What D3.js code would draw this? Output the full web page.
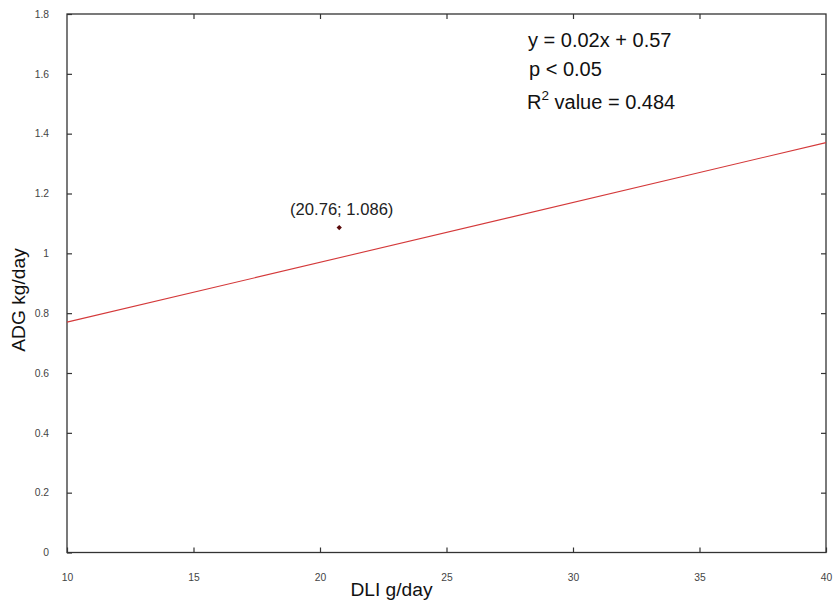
<!DOCTYPE html>
<html>
<head>
<meta charset="utf-8">
<script src="https://cdn.jsdelivr.net/npm/d3@7"></script>
<style>
  html, body { margin: 0; padding: 0; background: #fff; }
  svg { display: block; font-family: "Liberation Sans", Arial, sans-serif; }
</style>
</head>
<body>
<svg id="chart" width="834" height="601"></svg>
<script>
// Regression of average daily gain on daily lignin intake
const xDomain = [10, 40];
const yDomain = [0, 1.8];
const xTicks = [10, 15, 20, 25, 30, 35, 40];
const yTicks = [0, 0.2, 0.4, 0.6, 0.8, 1, 1.2, 1.4, 1.6, 1.8];
const slope = 0.02;
const intercept = 0.57;
const fitX = [10, 40];
const pointX = [20.76];
const pointY = [1.086];
const pointLabels = ["(20.76; 1.086)"];
const statLines = ["y = 0.02x + 0.57", "p < 0.05"];
const r2Value = "0.484";
const xTitle = "DLI g/day";
const yTitle = "ADG kg/day";

const svg = d3.select("#chart");
const plotLeft = 67, plotRight = 826, plotTop = 14, plotBottom = 552.5;

const x = d3.scaleLinear().domain(xDomain).range([plotLeft, plotRight]);
const y = d3.scaleLinear().domain(yDomain).range([plotBottom, plotTop]);

const axisColor = "#333";
const labelColor = "#444";
const tickLen = 5;

// Frame
svg.append("rect")
  .attr("x", plotLeft).attr("y", plotTop)
  .attr("width", plotRight - plotLeft).attr("height", plotBottom - plotTop)
  .attr("fill", "none").attr("stroke", axisColor).attr("stroke-width", 1.3);

// Inward ticks on all four sides
function styleAxis(g) {
  g.select(".domain").remove();
  g.selectAll(".tick line").attr("stroke", axisColor).attr("stroke-width", 1.2);
  g.selectAll(".tick text").attr("fill", labelColor)
    .attr("font-size", 10.3).attr("font-family", "Liberation Sans, Arial, sans-serif");
}

svg.append("g").attr("transform", `translate(0,${plotBottom})`)
  .call(d3.axisBottom(x).tickValues(xTicks).tickFormat(d3.format("d"))
    .tickSizeInner(-tickLen).tickSizeOuter(0).tickPadding(21))
  .call(styleAxis);

svg.append("g").attr("transform", `translate(0,${plotTop})`)
  .call(d3.axisTop(x).tickValues(xTicks.slice(1, -1)).tickFormat("")
    .tickSizeInner(-tickLen).tickSizeOuter(0))
  .call(styleAxis);

svg.append("g").attr("transform", `translate(${plotLeft},0)`)
  .call(d3.axisLeft(y).tickValues(yTicks).tickFormat(d3.format("~g"))
    .tickSizeInner(-tickLen).tickSizeOuter(0).tickPadding(18))
  .call(styleAxis);

svg.append("g").attr("transform", `translate(${plotRight},0)`)
  .call(d3.axisRight(y).tickValues(yTicks.slice(1, -1)).tickFormat("")
    .tickSizeInner(-tickLen).tickSizeOuter(0))
  .call(styleAxis);

// Fitted line
const line = d3.line().x(d => x(d)).y(d => y(slope * d + intercept));
svg.append("path")
  .datum(fitX)
  .attr("d", line)
  .attr("fill", "none")
  .attr("stroke", "#d4393a")
  .attr("stroke-width", 1.1);

// Observed point
const pts = pointX.map((v, i) => ({ x: v, y: pointY[i], label: pointLabels[i] }));
svg.selectAll("path.pt").data(pts).enter().append("path")
  .attr("class", "pt")
  .attr("transform", d => `translate(${x(d.x)},${y(d.y)})`)
  .attr("d", d3.symbol().type(d3.symbolSquare).size(14))
  .attr("transform", d => `translate(${x(d.x)},${y(d.y)}) rotate(45)`)
  .attr("fill", "#5a0a0a");

svg.selectAll("text.ptlabel").data(pts).enter().append("text")
  .attr("class", "ptlabel")
  .attr("x", d => x(d.x) + 2.5)
  .attr("y", d => y(d.y) - 13)
  .attr("text-anchor", "middle")
  .attr("font-size", 16.6)
  .attr("fill", "#222")
  .text(d => d.label);

// Regression statistics
const statX = 528;
svg.append("text").attr("x", statX).attr("y", 47)
  .attr("font-size", 20).attr("fill", "#111").text(statLines[0]);
svg.append("text").attr("x", statX + 1).attr("y", 76)
  .attr("font-size", 20).attr("fill", "#111").text(statLines[1]);
const r2 = svg.append("text").attr("x", statX - 1).attr("y", 109)
  .attr("font-size", 20).attr("fill", "#111");
r2.append("tspan").text("R");
r2.append("tspan").attr("dy", -9).attr("font-size", 13.5).text("2");
r2.append("tspan").attr("dy", 9).text(" value = " + r2Value);

// Axis titles
svg.append("text")
  .attr("x", (plotLeft + plotRight) / 2 - 55).attr("y", 596)
  .attr("text-anchor", "middle")
  .attr("font-size", 19.2).attr("fill", "#111")
  .text(xTitle);

svg.append("text")
  .attr("transform", `translate(25,${300}) rotate(-90)`)
  .attr("text-anchor", "middle")
  .attr("font-size", 19.2).attr("fill", "#111")
  .text(yTitle);
</script>
</body>
</html>
